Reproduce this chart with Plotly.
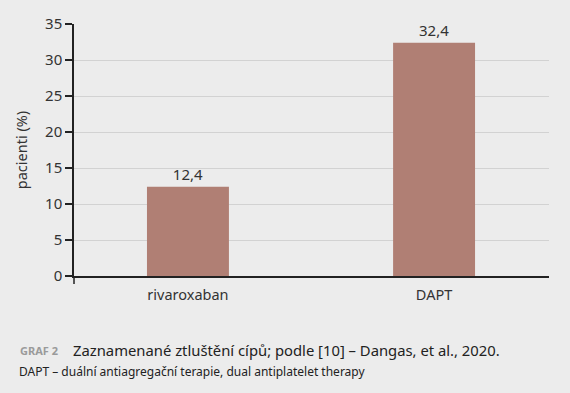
import plotly.graph_objects as go

categories = ["rivaroxaban", "DAPT"]
values = [12.4, 32.4]
y_ticks = [0, 5, 10, 15, 20, 25, 30, 35]

BG = "#ececec"
BAR = "#b07f74"
TXT = "#333333"
FONT = "Noto Sans"

L, R, T, B = 74, 21, 24, 117
PW, PH = 570 - L - R, 393 - T - B

fig = go.Figure(go.Bar(
    x=categories, y=values, marker_color=BAR, marker_line_width=0,
    text=[f"{v:.1f}".replace(".", ",") for v in values],
    textposition="outside", textfont=dict(size=15, color=TXT, family=FONT),
    cliponaxis=False, width=0.333, hoverinfo="skip",
))

fig.update_layout(
    width=570, height=393,
    paper_bgcolor=BG, plot_bgcolor=BG,
    margin=dict(l=L, r=R, t=T, b=B, autoexpand=False),
    showlegend=False,
    font=dict(family=FONT, color=TXT, size=14),
    xaxis=dict(range=[-0.463, 1.467], showline=True, linecolor="#222222", linewidth=1.5,
               ticks="", tickfont=dict(size=14.5, color=TXT), showgrid=False, fixedrange=True,
               automargin=False, ticklabelstandoff=5),
    yaxis=dict(range=[0, 35], tickvals=y_ticks, showline=True, linecolor="#222222", linewidth=1.5,
               ticks="outside", ticklen=7, tickcolor="#222222", tickwidth=1.5,
               gridcolor="#d2d2d2", gridwidth=1, zeroline=False, automargin=False,
               tickfont=dict(size=15, color=TXT), fixedrange=True,
               title=dict(text="pacienti (%)", font=dict(size=14.5, color=TXT), standoff=14)),
    shapes=[dict(type="line", xref="paper", yref="paper", x0=0, x1=0, y0=0, y1=-8 / PH,
                 line=dict(color="#222222", width=1.5))],
    annotations=[
        dict(xref="paper", yref="paper", x=(18 - L) / PW, y=-(350 - (T + PH)) / PH,
             xanchor="left", yanchor="middle", showarrow=False,
             text="<b>GRAF 2</b>", font=dict(size=11, color="#9a9a9a")),
        dict(xref="paper", yref="paper", x=(71 - L) / PW, y=-(350 - (T + PH)) / PH,
             xanchor="left", yanchor="middle", showarrow=False,
             text="Zaznamenané ztluštění cípů; podle [10] – Dangas, et al., 2020.",
             font=dict(size=14.8, color="#222222")),
        dict(xref="paper", yref="paper", x=(17 - L) / PW, y=-(371 - (T + PH)) / PH,
             xanchor="left", yanchor="middle", showarrow=False,
             text="DAPT – duální antiagregační terapie, dual antiplatelet therapy",
             font=dict(size=12, color="#222222")),
    ],
)

fig.write_html("out.html", config={"displayModeBar": False},
               post_script="document.body.style.margin='0';document.body.style.background='#ececec';")
